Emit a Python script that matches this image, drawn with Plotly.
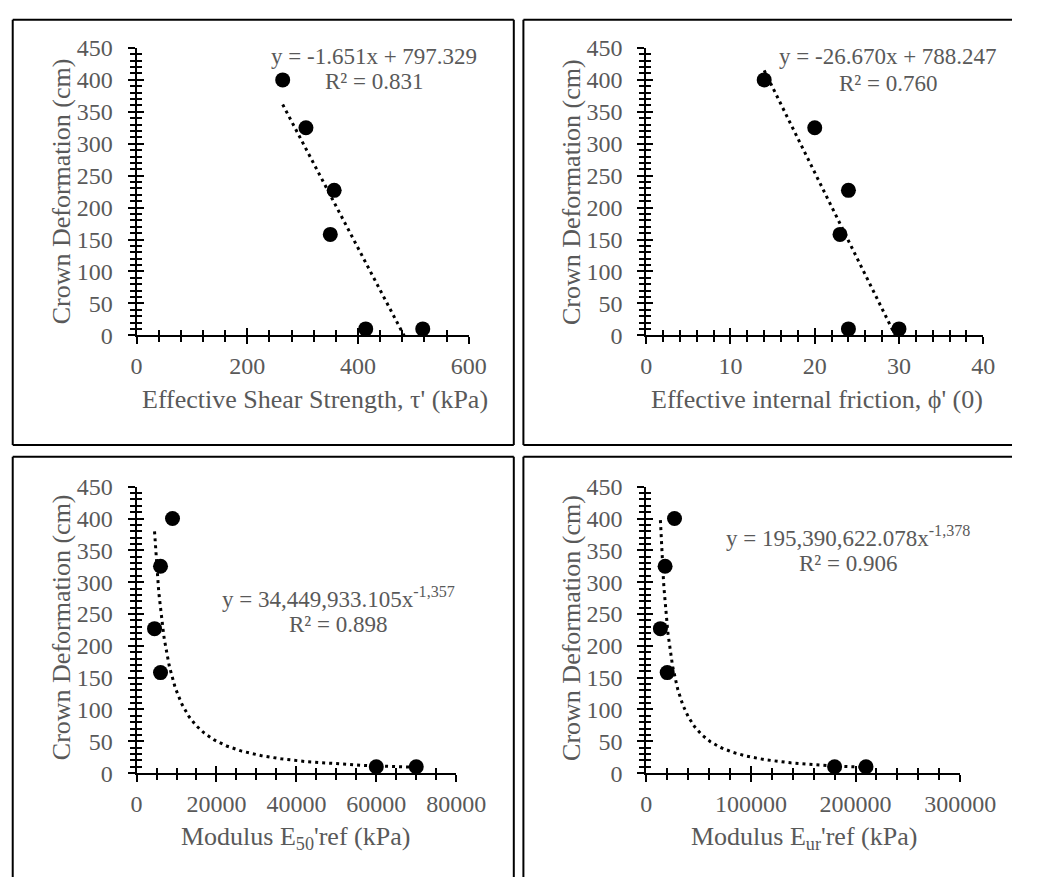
import numpy as np
import plotly.graph_objects as go

# ---------------- data ----------------
deformation = [400, 325, 227, 158, 10, 10]
shear_strength = [264, 306, 357, 350, 414, 517]
friction = [14, 20, 24, 23, 24, 30]
e50_ref = [9000, 6000, 4500, 6000, 60000, 70000]
eur_ref = [27000, 18000, 13500, 20000, 180000, 210000]

lin1 = (-1.651, 797.329)
lin2 = (-26.670, 788.247)
pow3 = (34449933.105, -1.357)
pow4 = (195390622.078, -1.378)

eq_texts = [
    ("y = -1.651x + 797.329", "R² = 0.831"),
    ("y = -26.670x + 788.247", "R² = 0.760"),
    ("y = 34,449,933.105x<sup>-1,357</sup>", "R² = 0.898"),
    ("y = 195,390,622.078x<sup>-1,378</sup>", "R² = 0.906"),
]
x_titles = [
    "Effective Shear Strength, τ' (kPa)",
    "Effective internal friction, ϕ' (0)",
    "Modulus E<sub>50</sub>'ref (kPa)",
    "Modulus E<sub>ur</sub>'ref (kPa)",
]
y_title = "Crown Deformation (cm)"

# ---------------- layout geometry (pixels) ----------------
W, H = 1048, 890
FONT = "Liberation Serif, Times New Roman, serif"
GRAY = "#595959"

panels = [
    dict(x=shear_strength, xr=[0, 600], dt=200, mdt=40, px=(136, 482), py=(332, 36),
         eq=(383, 45, 71), xt=(322, 398), yt=(58, 184), kind="lin", c=lin1),
    dict(x=friction, xr=[0, 40], dt=10, mdt=2, px=(667, 1018), py=(332, 36),
         eq=(919, 45, 73), xt=(845, 398), yt=(589, 184), kind="lin", c=lin2),
    dict(x=e50_ref, xr=[0, 80000], dt=20000, mdt=5000, px=(136, 469), py=(783, 488),
         eq=(346, 602, 630), xt=(302, 850), yt=(58, 633), kind="pow", c=pow3),
    dict(x=eur_ref, xr=[0, 300000], dt=100000, mdt=20000, px=(667, 994), py=(783, 488),
         eq=(877, 539, 567), xt=(831, 850), yt=(589, 633), kind="pow", c=pow4),
]

def fx(p):
    return p / W

def fy(p):
    return 1 - p / H

fig = go.Figure()
layout = dict(width=W, height=H, margin=dict(l=0, r=0, t=0, b=0, pad=0),
              paper_bgcolor="white", plot_bgcolor="rgba(0,0,0,0)",
              showlegend=False, font=dict(family=FONT, color=GRAY, size=24))
annotations = []
shapes = []

for i, p in enumerate(panels):
    n = i + 1
    m = i + 5
    xs = "" if n == 1 else str(n)
    xd = [fx(p["px"][0]), fx(p["px"][1])]
    yd = [fy(p["py"][0]), fy(p["py"][1])]

    # trendline from the equation shown on the chart
    xmin, xmax = min(p["x"]), max(p["x"])
    if p["kind"] == "lin":
        tx = np.array([xmin, xmax], dtype=float)
        ty = p["c"][0] * tx + p["c"][1]
    else:
        tx = np.linspace(xmin, xmax, 400)
        ty = p["c"][0] * tx ** p["c"][1]
    fig.add_trace(go.Scatter(x=tx, y=ty, mode="lines", xaxis="x" + xs, yaxis="y" + xs,
                             line=dict(color="black", width=3, dash="3px,4px"),
                             hoverinfo="skip"))
    fig.add_trace(go.Scatter(x=p["x"], y=deformation, mode="markers",
                             xaxis="x" + xs, yaxis="y" + xs,
                             marker=dict(color="black", size=15)))
    # invisible trace so the overlay axes (inner half of crossing ticks) are drawn
    fig.add_trace(go.Scatter(x=[p["xr"][0]], y=[0], mode="markers", xaxis="x" + str(m),
                             yaxis="y" + str(m), marker=dict(opacity=0), hoverinfo="skip"))

    common = dict(showgrid=False, zeroline=False, linecolor="black", linewidth=2,
                  tickcolor="black", tickwidth=2, ticklen=7, tickformat="d",
                  tickfont=dict(family=FONT, size=24, color=GRAY))
    layout["xaxis" + xs] = dict(common, domain=xd, range=p["xr"], anchor="y" + xs,
                                showline=True, ticks="outside", dtick=p["dt"], tick0=0,
                                ticklabelstandoff=1,
                                minor=dict(ticks="outside", ticklen=5, dtick=p["mdt"],
                                           tickcolor="black", tickwidth=2))
    layout["yaxis" + xs] = dict(common, domain=yd, range=[0, 450], anchor="x" + xs,
                                showline=True, ticks="outside", dtick=50, tick0=0,
                                ticklabelstandoff=10,
                                minor=dict(ticks="outside", ticklen=5, dtick=10,
                                           tickcolor="black", tickwidth=2))
    layout["xaxis" + str(m)] = dict(showgrid=False, zeroline=False, domain=xd, range=p["xr"],
                                    anchor="y" + str(m), overlaying="x" + xs, showline=False,
                                    ticks="inside", ticklen=7, tickwidth=2, tickcolor="black",
                                    dtick=p["dt"], tick0=0, showticklabels=False,
                                    minor=dict(ticks="inside", ticklen=5, dtick=p["mdt"],
                                               tickcolor="black", tickwidth=2))
    layout["yaxis" + str(m)] = dict(showgrid=False, zeroline=False, domain=yd, range=[0, 450],
                                    anchor="x" + str(m), overlaying="y" + xs, showline=False,
                                    ticks="inside", ticklen=7, tickwidth=2, tickcolor="black",
                                    dtick=50, tick0=0, showticklabels=False,
                                    minor=dict(ticks="inside", ticklen=5, dtick=10,
                                               tickcolor="black", tickwidth=2))

    ex, ey1, ey2 = p["eq"]
    annotations.append(dict(x=fx(ex), y=fy(ey1), xref="paper", yref="paper", showarrow=False,
                            text=eq_texts[i][0], xanchor="center", yanchor="middle",
                            font=dict(family=FONT, size=23, color=GRAY)))
    annotations.append(dict(x=fx(ex), y=fy(ey2), xref="paper", yref="paper", showarrow=False,
                            text=eq_texts[i][1], xanchor="center", yanchor="middle",
                            font=dict(family=FONT, size=23, color=GRAY)))
    annotations.append(dict(x=fx(p["xt"][0]), y=fy(p["xt"][1]), xref="paper", yref="paper",
                            showarrow=False, text=x_titles[i], xanchor="center",
                            yanchor="middle", font=dict(family=FONT, size=26, color=GRAY)))
    annotations.append(dict(x=fx(p["yt"][0]), y=fy(p["yt"][1]), xref="paper", yref="paper",
                            showarrow=False, text=y_title, textangle=-90, xanchor="center",
                            yanchor="middle", font=dict(family=FONT, size=26, color=GRAY)))

# panel frames (edges that lie inside the picture)
frame_lines = [
    (7, 7, 529, 7), (7, 7, 7, 445), (529, 7, 529, 445), (7, 445, 529, 445),
    (539, 7, 1048, 7), (539, 7, 539, 445), (539, 445, 1048, 445),
    (7, 457, 529, 457), (7, 457, 7, 890), (529, 457, 529, 890),
    (539, 457, 1048, 457), (539, 457, 539, 890),
]
for (x0, y0, x1, y1) in frame_lines:
    shapes.append(dict(type="line", xref="paper", yref="paper",
                       x0=fx(x0), x1=fx(x1), y0=fy(y0), y1=fy(y1),
                       line=dict(color="black", width=2), layer="below"))

layout["annotations"] = annotations
layout["shapes"] = shapes
fig.update_layout(**layout)
fig.write_html("out.html")
